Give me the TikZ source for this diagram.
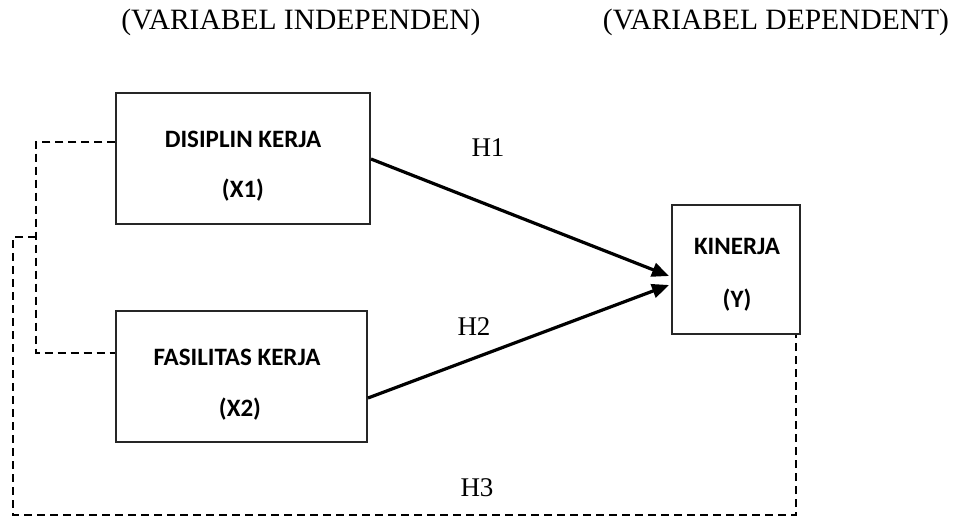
\documentclass[tikz,border=0pt]{standalone}
\usepackage{fontspec}
\setmainfont{Liberation Serif}
\newfontfamily\boxfont{Carlito}
\usetikzlibrary{arrows.meta}
\begin{document}
\begin{tikzpicture}[x=1pt,y=-1pt,
  vbox/.style={draw=black!85,line width=1.1pt,inner sep=0pt},
  btext/.style={font=\boxfont\fontsize{25}{29}\selectfont\bfseries,inner sep=0pt},
  htext/.style={font=\fontsize{27}{31}\selectfont,inner sep=0pt},
  ttext/.style={font=\fontsize{29.5}{33}\selectfont,inner sep=0pt},
  harrow/.style={line width=3.2pt,-{Triangle[length=17pt,width=14pt]}},
  dline/.style={line width=1.4pt,dash pattern=on 8pt off 5pt}]
\useasboundingbox (0,0) rectangle (956,516);
\node[ttext] (t1) at (301,22) {(VARIABEL INDEPENDEN)};
\node[ttext] (t2) at (776,22) {(VARIABEL DEPENDENT)};
\node[vbox,minimum width=254pt,minimum height=131pt] (b1) at (243,158.5) {};
\node[vbox,minimum width=251pt,minimum height=131pt] (b2) at (241.5,376.5) {};
\node[vbox,minimum width=128pt,minimum height=129pt] (b3) at (736,269.5) {};
\node[btext] (l1a) at (243,139) {DISIPLIN KERJA};
\node[btext] (l1b) at (243,190) {(X1)};
\node[btext] (l2a) at (237,357) {FASILITAS KERJA};
\node[btext] (l2b) at (240,409) {(X2)};
\node[btext] (l3a) at (737,246) {KINERJA};
\node[btext] (l3b) at (737,300) {(Y)};
\coordinate (s1) at (371,159);
\coordinate (s2) at (368,398);
\coordinate (e1) at (669,276);
\coordinate (e2) at (669,285);
\draw[harrow] (s1) -- (e1);
\draw[harrow] (s2) -- (e2);
\node[htext] (h1) at (488,148) {H1};
\node[htext] (h2) at (474,327) {H2};
\node[htext] (h3) at (477,488) {H3};
\coordinate (c1) at (b1.west |- 0,142);
\coordinate (c2) at (b2.west |- 0,353);
\draw[dline] (c1) -- (36,142) -- (36,353) -- (c2);
\coordinate (c3) at (796,0 |- b3.south);
\draw[dline] (36,237) -- (13,237) -- (13,515) -- (796,515) -- (c3);
\end{tikzpicture}
\end{document}
